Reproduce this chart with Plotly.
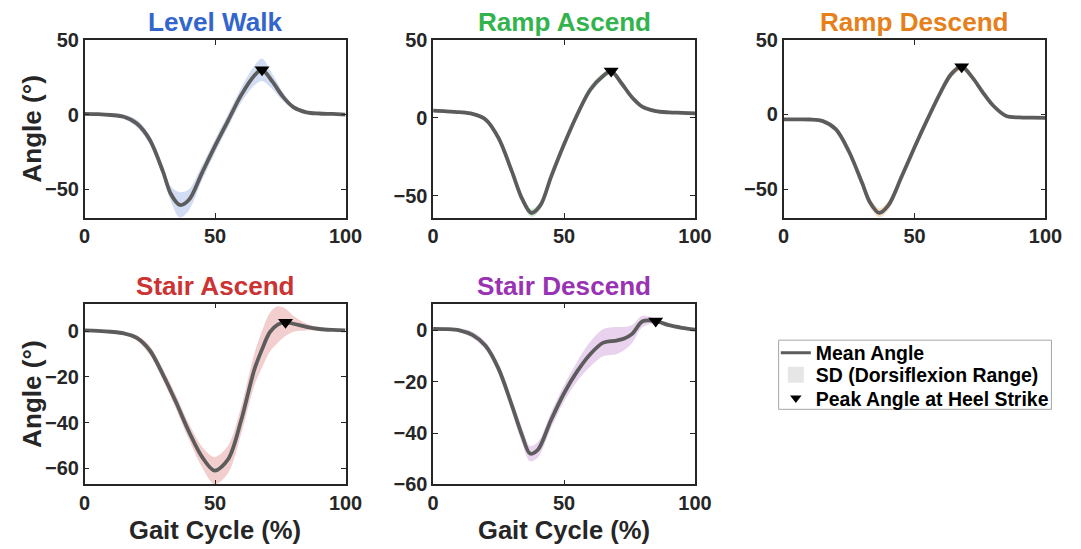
import plotly.graph_objects as go

# ---------------- data ----------------
modes = ["Level Walk", "Ramp Ascend", "Ramp Descend", "Stair Ascend", "Stair Descend"]

lw_x = [0, 5, 10, 15, 20, 25, 30, 33, 36.5, 40, 45, 50, 55, 60, 65, 68, 72, 76, 80, 85, 90, 95, 100]
lw_mean = [0.5, 0.3, -0.3, -1.5, -6, -17, -38, -53, -60.5, -57, -39, -21, -4, 13, 26, 30, 22, 12, 5, 1.5, 0.7, 0.4, 0]
lw_sd = [0.3, 0.5, 1, 1.5, 2.5, 3, 3.5, 5, 8.5, 7, 5, 4.5, 4.5, 5, 6.5, 7.5, 5, 3, 1.5, 1, 0.5, 0.3, 0.3]

ra_x = [0, 5, 10, 15, 20, 25, 30, 34, 37.5, 41, 45, 50, 55, 60, 65, 68, 72, 76, 80, 85, 90, 95, 100]
ra_mean = [4.6, 4.2, 3.6, 2.5, -1, -13, -34, -52, -61, -56, -38, -17, 2, 18, 27, 30, 22, 13, 7, 4.3, 3.5, 3.2, 2.9]
ra_sd = [0.8, 0.8, 0.8, 1, 1.5, 2, 2.5, 2.5, 2.5, 2.5, 2.5, 2.5, 2.5, 2.5, 2, 2, 1.5, 1.5, 1.2, 1, 1, 1, 1]

rd_x = [0, 5, 10, 15, 20, 25, 30, 33, 36.5, 40, 45, 50, 55, 60, 64, 68, 72, 76, 80, 85, 90, 95, 100]
rd_mean = [-3.3, -3.3, -3.4, -4.5, -10, -25, -46, -59, -66, -61, -42, -22, -3, 15, 27, 32, 25, 15, 6, -1, -2, -2.2, -2.3]
rd_sd = [0.6, 0.6, 0.8, 1, 1.5, 2, 2.5, 3, 3, 3, 2.5, 2.5, 2.5, 2.5, 2.5, 2.5, 2, 2, 1.5, 1.2, 1, 1, 1]

sa_x = [0, 5, 10, 15, 20, 25, 30, 35, 40, 45, 49.8, 55, 60, 65, 68, 71, 74, 77, 80, 85, 90, 95, 100]
sa_mean = [0.3, 0.1, -0.3, -1, -3, -8.5, -19, -31, -44, -55, -61, -56, -39, -17, -8, -0.5, 2.8, 3.8, 3.2, 1.8, 0.9, 0.5, 0.3]
sa_sd = [0.3, 0.3, 0.4, 0.7, 1.2, 2, 2.5, 3, 3.5, 4.5, 6, 6, 6, 7, 8, 8.5, 8, 6, 3.5, 1.5, 0.8, 0.4, 0.3]

sd_x = [0, 5, 10, 15, 20, 25, 30, 34, 37, 40, 45, 50, 55, 60, 65, 70, 73, 76, 80, 85, 90, 95, 100]
sd_mean = [0.6, 0.5, 0, -1.8, -6, -15, -29, -41, -48, -46.5, -35, -24.5, -16, -9.3, -4.8, -4, -3.2, -1.4, 3.5, 3.6, 2, 1, 0.3]
sd_sd = [0.5, 0.5, 0.8, 1.2, 1.5, 2, 2.5, 3, 3, 3, 3, 3.2, 3.8, 4.8, 5.3, 5.3, 4.5, 3.5, 2.2, 0.8, 0.3, 0.3, 0.3]

peak_x = [68, 68, 68, 77, 85]
peak_y = [30, 30, 32, 3.8, 3.6]

x_tick_labels = [0, 50, 100]
top_y_ticks = [-50, 0, 50]
bottom_y_ticks = [-60, -40, -20, 0]

legend_names = ["Mean Angle", "SD (Dorsiflexion Range)", "Peak Angle at Heel Strike"]

# ---------------- styling ----------------
title_colors = ["#3366CC", "#33B34D", "#E6801A", "#CC3333", "#9933B3"]
band_colors = ["rgba(51,102,204,0.22)", "rgba(51,179,77,0.25)", "rgba(230,128,26,0.25)",
               "rgba(204,51,51,0.24)", "rgba(153,51,179,0.22)"]
mean_color = "#5C5C5C"
axis_color = "#262626"
FONT = "Liberation Sans, Arial, sans-serif"

W, H = 1081, 549
# the photographed page maps figure px -> picture px roughly as  P = O + S * p
SX, SY, OX, OY = 0.983, 0.9717, 4.0, 7.8


def fx(X):  # picture x (px) -> paper fraction
    return (X - OX) / SX / W


def fy(Y):  # picture y (px) -> paper fraction
    return 1 - (Y - OY) / SY / H


def fs(size):
    return size / 0.977


series = [(lw_x, lw_mean, lw_sd), (ra_x, ra_mean, ra_sd), (rd_x, rd_mean, rd_sd),
          (sa_x, sa_mean, sa_sd), (sd_x, sd_mean, sd_sd)]

# target picture boxes of each panel: (left, right, top, bottom)
boxes = [(83, 345, 37, 217), (433, 696, 37, 217), (785, 1048, 37, 217),
         (83, 345, 304, 487), (433, 696, 304, 487)]
y_ranges = [[-69, 50], [-64, 50], [-69.2, 50], [-67, 12], [-60, 10.4]]

fig = go.Figure()

for i, (xs, m, s) in enumerate(series):
    k = "" if i == 0 else str(i + 1)
    xa, ya = "x" + k, "y" + k
    upper = [a + b for a, b in zip(m, s)]
    lower = [a - b for a, b in zip(m, s)]
    fig.add_trace(go.Scatter(x=xs, y=upper, xaxis=xa, yaxis=ya, mode="lines",
                             line=dict(width=0, shape="spline", smoothing=0.9),
                             showlegend=False, hoverinfo="skip"))
    fig.add_trace(go.Scatter(x=xs, y=lower, xaxis=xa, yaxis=ya, mode="lines",
                             line=dict(width=0, shape="spline", smoothing=0.9),
                             fill="tonexty", fillcolor=band_colors[i],
                             showlegend=False, hoverinfo="skip"))
    fig.add_trace(go.Scatter(x=xs, y=m, xaxis=xa, yaxis=ya, mode="lines",
                             line=dict(color=mean_color, width=3.8, shape="spline", smoothing=0.9),
                             showlegend=False))
    fig.add_trace(go.Scatter(x=[peak_x[i]], y=[peak_y[i]], xaxis=xa, yaxis=ya, mode="markers",
                             marker=dict(symbol="triangle-down", size=13, color="black"),
                             showlegend=False))

    l, r, t, b = boxes[i]
    common = dict(showline=True, linecolor=axis_color, linewidth=1.5, mirror="ticks",
                  ticks="inside", ticklen=5, tickwidth=1.3, tickcolor=axis_color,
                  showgrid=False, zeroline=False,
                  tickfont=dict(family=FONT, size=fs(19.5), color=axis_color, weight="bold"))
    fig.layout["xaxis" + k] = dict(domain=[fx(l), fx(r)], range=[0, 100], tickvals=x_tick_labels,
                                   anchor=ya, ticklabelstandoff=0, **common)
    yt = top_y_ticks if i < 3 else bottom_y_ticks
    fig.layout["yaxis" + k] = dict(domain=[fy(b), fy(t)], range=y_ranges[i], tickvals=yt,
                                   anchor=xa, **common)

    # panel title
    fig.add_annotation(text=modes[i], xref="paper", yref="paper",
                       x=fx((l + r) / 2), y=fy(t - 18), xanchor="center", yanchor="middle",
                       showarrow=False,
                       font=dict(family=FONT, size=fs(25.5), color=title_colors[i], weight="bold"))

# y axis titles (left column)
for (t, b) in [(37, 217), (304, 487)]:
    fig.add_annotation(text="Angle (°)", xref="paper", yref="paper",
                       x=fx(30), y=fy((t + b) / 2), textangle=-90,
                       xanchor="center", yanchor="middle", showarrow=False,
                       font=dict(family=FONT, size=fs(25.5), color=axis_color, weight="bold"))
# x axis titles (bottom row)
for (l, r) in [(83, 345), (433, 696)]:
    fig.add_annotation(text="Gait Cycle (%)", xref="paper", yref="paper",
                       x=fx((l + r) / 2), y=fy(533),
                       xanchor="center", yanchor="middle", showarrow=False,
                       font=dict(family=FONT, size=fs(25), color=axis_color, weight="bold"))

# legend-only entries, one legend per row so the rows sit as tight as the reference
fig.add_trace(go.Scatter(x=[None], y=[None], mode="lines", name=legend_names[0],
                         line=dict(color=mean_color, width=3), legend="legend"))
fig.add_trace(go.Scatter(x=[None], y=[None], mode="markers", name=legend_names[1],
                         marker=dict(symbol="square", size=16, color="#E6E6E6"),
                         legend="legend2"))
fig.add_trace(go.Scatter(x=[None], y=[None], mode="markers", name=legend_names[2],
                         marker=dict(symbol="triangle-down", size=10, color="black"),
                         legend="legend3"))

leg_font = dict(family=FONT, size=fs(19), color="black", weight="bold")
leg_x = fx(817) - 40.5 / W
leg_common = dict(x=leg_x, xanchor="left", yanchor="middle", bgcolor="rgba(0,0,0,0)",
                  borderwidth=0, font=leg_font, itemwidth=30)

# legend frame
fig.add_shape(type="rect", xref="paper", yref="paper",
              x0=fx(780), x1=fx(1054), y0=fy(411), y1=fy(341),
              line=dict(color="#A6A6A6", width=1), fillcolor="white", layer="below")

fig.update_layout(
    width=W, height=H, margin=dict(l=0, r=0, t=0, b=0),
    paper_bgcolor="white", plot_bgcolor="rgba(0,0,0,0)",
    legend=dict(y=fy(354), **leg_common),
    legend2=dict(y=fy(376.5), **leg_common),
    legend3=dict(y=fy(400), **leg_common),
)

fig.write_html("out.html")
